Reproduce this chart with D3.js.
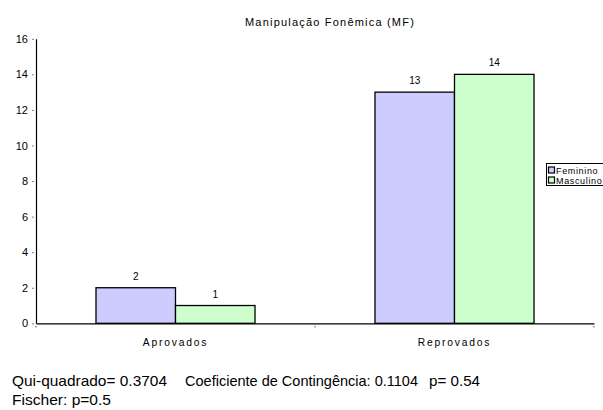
<!DOCTYPE html>
<html><head><meta charset="utf-8">
<script src="https://cdn.jsdelivr.net/npm/d3@7"></script>
<style>body{margin:0;background:#fff}svg{display:block;font-family:"Liberation Sans",Arial,sans-serif}</style>
</head><body><svg id="c" width="603" height="410"></svg>
<script>
const categories = ["Aprovados", "Reprovados"];
const seriesNames = ["Feminino", "Masculino"];
const feminino = [2, 13];
const masculino = [1, 14];
const yTicks = [0, 2, 4, 6, 8, 10, 12, 14, 16];
const title = "Manipulação Fonêmica (MF)";
const footSegments = [
  {text: "Qui-quadrado= 0.3704", x: 12, line: 0, len: 155},
  {text: "Coeficiente de Contingência: 0.1104", x: 185, line: 0, len: 233},
  {text: "p= 0.54", x: 429, line: 0, len: 51},
  {text: "Fischer: p=0.5", x: 12, line: 1, len: 99}
];
const colors = ["#CCCCFF", "#CCFFCC"];

const svg = d3.select("#c");
const x0 = 36, x1 = 594, yTop = 38.8, yBot = 323.3;
const x = d3.scaleBand().domain(categories).range([x0, x1]);
const y = d3.scaleLinear().domain([0, 16]).range([yBot, yTop]);
const groupW = x.bandwidth() * 0.57;
const xs = d3.scaleBand().domain(seriesNames).range([0, groupW]);
const data = categories.map((c, i) => ({cat: c, vals: [feminino[i], masculino[i]]}));

// title
svg.append("text").attr("x", 330).attr("y", 25.5).attr("text-anchor", "middle")
  .attr("font-size", 11).attr("letter-spacing", 1.2).text(title);

// bars
const g = svg.append("g");
data.forEach(d => {
  const gx = x(d.cat) + (x.bandwidth() - groupW) / 2;
  d.vals.forEach((v, j) => {
    g.append("rect").attr("x", gx + xs(seriesNames[j])).attr("y", y(v))
      .attr("width", xs.bandwidth()).attr("height", y(0) - y(v))
      .attr("fill", colors[j]).attr("stroke", "#000").attr("stroke-width", 1.3);
    g.append("text").attr("x", gx + xs(seriesNames[j]) + xs.bandwidth() / 2)
      .attr("y", y(v) - 8).attr("text-anchor", "middle").attr("font-size", 10)
      .text(v);
  });
});

// y axis
const ya = d3.axisLeft(y).tickValues(yTicks).tickSize(0).tickPadding(8);
const yg = svg.append("g").attr("transform", `translate(${x0},0)`).call(ya);
yg.select(".domain").attr("stroke", "#000").attr("stroke-width", 1.2);
yg.selectAll("text").attr("font-size", 11).attr("font-family", "Liberation Sans, Arial, sans-serif").attr("fill", "#000");
yg.selectAll(".tick").append("line").attr("x1", -3.5).attr("x2", -2.5).attr("stroke", "#000");

// x axis
const xa = d3.axisBottom(x).tickSize(0).tickPadding(15);
const xg = svg.append("g").attr("transform", `translate(0,${yBot})`).call(xa);
xg.select(".domain").attr("stroke", "#000").attr("stroke-width", 1.2);
xg.selectAll("text").attr("font-size", 10.3).attr("letter-spacing", 1.8)
  .attr("font-family", "Liberation Sans, Arial, sans-serif").attr("fill", "#000");
[x0, x0 + x.bandwidth(), x1].forEach(px => {
  svg.append("rect").attr("x", px - 0.5).attr("y", yBot + 3).attr("width", 1).attr("height", 1).attr("fill", "#000");
});

// legend
const lg = svg.append("g").attr("transform", "translate(546,163)");
lg.append("rect").attr("x", 0.5).attr("y", 0.5).attr("width", 70).attr("height", 22)
  .attr("fill", "#fff").attr("stroke", "#000").attr("stroke-width", 1);
seriesNames.forEach((s, i) => {
  lg.append("rect").attr("x", 2.5).attr("y", 4 + i * 10).attr("width", 6).attr("height", 6)
    .attr("fill", colors[i]).attr("stroke", "#000").attr("stroke-width", 1.2);
  lg.append("text").attr("x", 10).attr("y", 10.5 + i * 10).attr("font-size", 9)
    .attr("letter-spacing", 0.65).text(s);
});

// footer
footSegments.forEach(s => {
  svg.append("text").attr("x", s.x).attr("y", 386 + s.line * 18.5).attr("font-size", 15)
    .attr("textLength", s.len).attr("lengthAdjust", "spacingAndGlyphs").text(s.text);
});
</script></body></html>
